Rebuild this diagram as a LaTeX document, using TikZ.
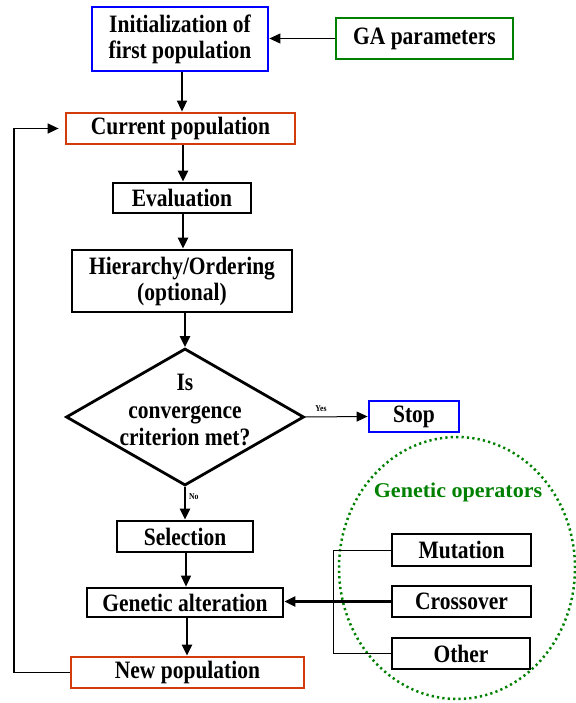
\documentclass[tikz,border=0pt]{standalone}
\usepackage{fontspec}
\setmainfont{Liberation Serif}[FakeStretch=0.86]
\newfontfamily\opfont{Liberation Serif}[FakeStretch=1.05]
\usetikzlibrary{shapes.geometric,arrows.meta}
\definecolor{bblue}{RGB}{0,0,255}
\definecolor{ggreen}{RGB}{0,128,0}
\definecolor{oorange}{RGB}{210,60,10}
\begin{document}
\begin{tikzpicture}[x=1pt,y=-1pt,
 box/.style={draw=black, line width=2.8pt, inner sep=0pt, align=center, font=\fontsize{25}{26}\selectfont\bfseries},
 arr/.style={-{Triangle[length=11pt,width=10pt]}, line width=2.2pt},
 tarr/.style={-{Triangle[length=11pt,width=10pt]}, line width=1pt},
 small/.style={font=\fontsize{9}{10}\selectfont\bfseries, inner sep=0pt},
]
\useasboundingbox (0,0) rectangle (575,703);
\node[draw=ggreen, dash pattern=on 2.2pt off 3.2pt, line width=2.5pt, ellipse, minimum width=236pt, minimum height=262pt] (ops) at (457,568) {};
\node[font=\fontsize{21}{24}\selectfont\bfseries\opfont, text=ggreen, inner sep=0pt] (opstext) at (458,492) {\bfseries Genetic operators};

\node[box, draw=bblue, minimum width=176pt, minimum height=64pt] (init) at (180,39) {Initialization of\\first population};
\node[box, draw=ggreen, minimum width=177pt, minimum height=41pt] (ga) at (424.5,38.5) {GA parameters};
\node[box, draw=oorange, minimum width=229pt, minimum height=31pt] (current) at (180.5,128.5) {Current population};
\node[box, minimum width=138pt, minimum height=30pt] (eval) at (182,198) {Evaluation};
\node[box, minimum width=220pt, minimum height=62pt] (hier) at (182,281) {Hierarchy/Ordering\\(optional)};
\node[draw, line width=2.8pt, diamond, minimum width=238pt, minimum height=137pt, inner sep=0pt] (dia) at (185,417) {};
\node[align=center, font=\fontsize{25}{27.5}\selectfont\bfseries, inner sep=0pt] (diatext) at (185,410) {Is\\convergence\\criterion met?};
\node[box, draw=bblue, minimum width=90pt, minimum height=31pt] (stop) at (414,416.5) {Stop};
\node[box, minimum width=136pt, minimum height=31pt] (sel) at (185,536.5) {Selection};
\node[box, minimum width=196pt, minimum height=29pt] (alt) at (185,602.5) {Genetic alteration};
\node[box, draw=oorange, minimum width=233pt, minimum height=31pt] (newpop) at (187.5,672.5) {New population};
\node[box, minimum width=139pt, minimum height=32pt] (mut) at (461.5,550) {Mutation};
\node[box, minimum width=139pt, minimum height=31pt] (cross) at (461.5,601.5) {Crossover};
\node[box, minimum width=138pt, minimum height=31pt] (other) at (461,653.5) {Other};

\draw[tarr] (ga.west) -- (ga.west -| init.east);
\draw[tarr, line width=1.5pt] (init.south -| 182,0) -- (current.north -| 182,0);
\draw[arr] (current.south -| 183,0) -- (eval.north -| 183,0);
\draw[arr] (eval.south -| 183,0) -- (hier.north -| 183,0);
\draw[arr] (hier.south -| dia.north) -- (dia.north);
\draw[arr] (dia.south) -- (dia.south |- sel.north) node[small, pos=0.3, right=3pt] (nolab) {No};
\draw[tarr] (dia.east) -- (stop.west) node[small, pos=0.25, above=5pt] (yeslab) {Yes};
\draw[tarr, line width=1.2pt] (sel.south -| 186,0) -- (alt.north -| 186,0);
\draw[arr] (alt.south -| 187,0) -- (newpop.north -| 187,0);
\draw[arr] (cross.west) -- (cross.west -| alt.east);
\coordinate (fb) at (14,672.5);
\draw[tarr, line width=1.5pt, shorten >=6pt] (newpop.west) -- (fb) |- (current.west);
\coordinate (br) at (333,550);
\draw[line width=1pt] (mut.west) -- (br) |- (other.west);
\end{tikzpicture}
\end{document}
